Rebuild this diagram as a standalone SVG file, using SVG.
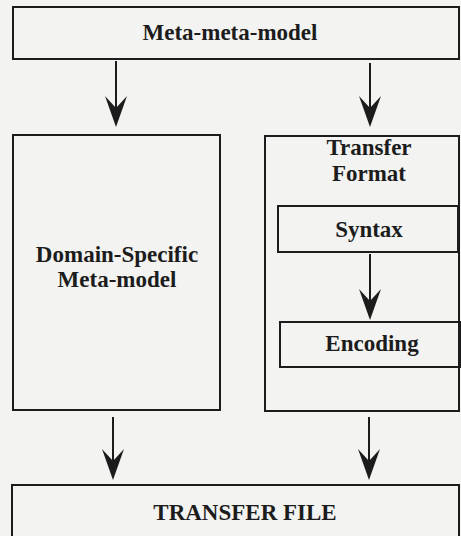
<svg xmlns="http://www.w3.org/2000/svg" width="461" height="536" viewBox="0 0 461 536">
  <style>
    .box { fill: none; stroke: #1c1c1c; stroke-width: 2; }
    .lbl { font-family: 'Liberation Serif', 'DejaVu Serif', serif; font-weight: 700; font-size: 23px; fill: #1c1c1c; text-anchor: middle; }
    .wire { stroke: #1c1c1c; stroke-width: 2; fill: none; marker-end: url(#head); }
  </style>
  <defs>
    <marker id="head" markerUnits="userSpaceOnUse" viewBox="0 -12 32 24" markerWidth="32" markerHeight="24" refX="12" refY="0" orient="auto">
      <path d="M0,-11 L31,0 L0,11 L12,0 Z" fill="#1c1c1c"/>
    </marker>
  </defs>
  <rect width="461" height="536" fill="#f3f3f1"/>

  <g id="meta-meta-model">
    <rect class="box" x="13" y="7" width="446" height="52"/>
    <text class="lbl" x="230" y="40">Meta-meta-model</text>
  </g>

  <g id="domain-meta-model">
    <rect class="box" x="13" y="135" width="207" height="275"/>
    <text class="lbl" x="117" y="262">Domain-Specific</text>
    <text class="lbl" x="117" y="287">Meta-model</text>
  </g>

  <g id="transfer-format">
    <rect class="box" x="265" y="136" width="194" height="275"/>
    <text class="lbl" x="369" y="155">Transfer</text>
    <text class="lbl" x="369" y="181">Format</text>
  </g>

  <g id="syntax">
    <rect class="box" x="278" y="206" width="180" height="46"/>
    <text class="lbl" x="369" y="237">Syntax</text>
  </g>

  <g id="encoding">
    <rect class="box" x="280" y="322" width="180" height="45"/>
    <text class="lbl" x="372" y="351">Encoding</text>
  </g>

  <g id="transfer-file">
    <rect class="box" x="12" y="485" width="447" height="70"/>
    <text class="lbl" x="245" y="520">TRANSFER FILE</text>
  </g>

  <g id="connectors">
    <line class="wire" x1="116" y1="61" x2="116" y2="108"/>
    <line class="wire" x1="370" y1="63" x2="370" y2="108"/>
    <line class="wire" x1="370" y1="254" x2="370" y2="301"/>
    <line class="wire" x1="113" y1="417" x2="113" y2="461"/>
    <line class="wire" x1="369" y1="417" x2="369" y2="461"/>
  </g>
</svg>
